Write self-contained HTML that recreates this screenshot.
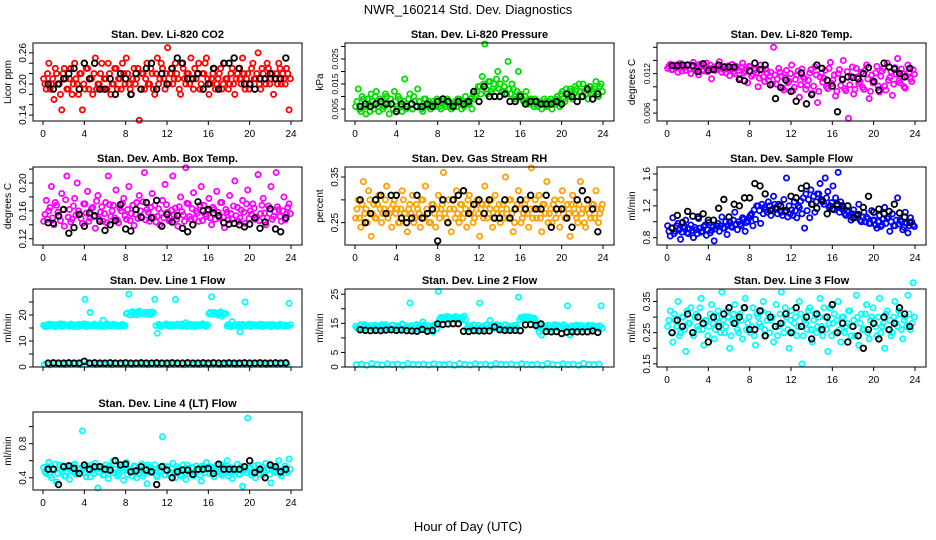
<!DOCTYPE html>
<html><head><meta charset="utf-8"><style>
body{margin:0;background:#fff;}
svg{display:block;font-family:"Liberation Sans",sans-serif;}
</style></head><body>
<svg id="chart" width="936" height="540" viewBox="0 0 936 540">
<rect width="936" height="540" fill="#fff"/>
<text x="468" y="14" text-anchor="middle" font-size="13">NWR_160214  Std. Dev. Diagnostics</text>
<text x="468" y="531" text-anchor="middle" font-size="13">Hour of Day (UTC)</text>
</svg>
<script>
const xTicks=[0,4,8,12,16,20,24];
const co2Col=[0.21,0.19,0.24,0.20,0.17,0.22,0.20,0.15,0.23,0.19,0.21,0.18,0.24,0.20,0.22,0.15,0.19,0.23,0.21,0.18,0.25,0.20,0.22,0.19,0.21,0.24,0.18,0.20,0.23,0.21,0.19,0.22,0.25,0.20,0.18,0.23,0.21,0.13,0.22,0.19,0.24,0.20,0.22,0.18,0.25,0.21,0.23,0.19,0.27,0.22,0.20,0.24,0.21,0.18,0.23,0.20,0.22,0.25,0.19,0.21,0.24,0.20,0.22,0.25,0.18,0.21,0.23,0.20,0.22,0.19,0.24,0.21,0.20,0.23,0.18,0.22,0.21,0.25,0.19,0.22,0.20,0.24,0.21,0.26,0.19,0.22,0.20,0.23,0.21,0.18,0.22,0.24,0.20,0.21,0.23,0.15];
const co2Col2=[0.20,0.22,0.19,0.21,0.23,0.20,0.18,0.22,0.21,0.19,0.23,0.20,0.21,0.18,0.22,0.20,0.23,0.19,0.21,0.22,0.19,0.20,0.24,0.21,0.19,0.22,0.20,0.23,0.19,0.21,0.24,0.20,0.22,0.19,0.21,0.20,0.23,0.19,0.22,0.21,0.20,0.23,0.19,0.22,0.20,0.24,0.21,0.22,0.20,0.23,0.21,0.22,0.19,0.24,0.21,0.22,0.20,0.21,0.23,0.22,0.19,0.22,0.24,0.21,0.20,0.22,0.19,0.21,0.23,0.20,0.21,0.19,0.22,0.20,0.21,0.23,0.20,0.22,0.21,0.19,0.23,0.21,0.22,0.20,0.23,0.21,0.24,0.20,0.22,0.21,0.20,0.23,0.22,0.20,0.22,0.21];
const co2Blk=[0.20,0.19,0.20,0.21,0.22,0.23,0.19,0.24,0.21,0.24,0.19,0.19,0.21,0.18,0.22,0.21,0.18,0.22,0.19,0.23,0.24,0.19,0.22,0.20,0.23,0.25,0.24,0.21,0.21,0.22,0.19,0.20,0.23,0.19,0.24,0.24,0.25,0.23,0.20,0.20,0.19,0.21,0.21,0.22,0.21,0.21,0.25];
const presCol=[0.006,0.013,0.004,0.009,0.003,0.007,0.011,0.005,0.012,0.004,0.008,0.006,0.010,0.003,0.007,0.012,0.005,0.009,0.004,0.017,0.006,0.011,0.005,0.008,0.013,0.006,0.004,0.009,0.006,0.005,0.008,0.006,0.007,0.005,0.009,0.006,0.008,0.005,0.007,0.006,0.009,0.005,0.006,0.008,0.007,0.005,0.009,0.012,0.014,0.018,0.031,0.011,0.016,0.013,0.010,0.020,0.015,0.012,0.017,0.024,0.011,0.013,0.009,0.020,0.010,0.008,0.012,0.007,0.009,0.006,0.008,0.007,0.005,0.009,0.006,0.008,0.005,0.007,0.010,0.006,0.012,0.008,0.011,0.013,0.009,0.014,0.010,0.012,0.015,0.011,0.009,0.014,0.012,0.016,0.010,0.015];
const presCol2=[0.008,0.005,0.010,0.006,0.009,0.004,0.008,0.010,0.006,0.009,0.005,0.011,0.007,0.009,0.005,0.008,0.010,0.006,0.008,0.005,0.009,0.007,0.010,0.006,0.008,0.005,0.009,0.007,0.008,0.006,0.007,0.009,0.006,0.008,0.007,0.009,0.006,0.007,0.008,0.009,0.007,0.008,0.010,0.007,0.009,0.011,0.010,0.014,0.011,0.015,0.013,0.016,0.012,0.015,0.017,0.013,0.012,0.014,0.011,0.013,0.015,0.010,0.012,0.011,0.009,0.010,0.008,0.009,0.007,0.009,0.006,0.008,0.007,0.008,0.007,0.009,0.008,0.009,0.008,0.011,0.009,0.013,0.010,0.012,0.011,0.013,0.015,0.010,0.012,0.013,0.014,0.011,0.013,0.012,0.014,0.012];
const presBlk=[0.006,0.007,0.006,0.007,0.008,0.007,0.007,0.004,0.007,0.006,0.007,0.006,0.006,0.007,0.006,0.008,0.009,0.008,0.006,0.008,0.007,0.008,0.012,0.008,0.014,0.010,0.010,0.010,0.011,0.008,0.008,0.010,0.007,0.008,0.008,0.007,0.007,0.007,0.008,0.007,0.011,0.010,0.008,0.010,0.013,0.009,0.011];
const tempCol=[0.0128,0.0134,0.0126,0.0131,0.0122,0.0135,0.0129,0.0125,0.0133,0.0120,0.0137,0.0127,0.0118,0.0132,0.0124,0.0136,0.0128,0.0112,0.0130,0.0126,0.0138,0.0122,0.0131,0.0127,0.0117,0.0134,0.0120,0.0129,0.0113,0.0136,0.0124,0.0106,0.0131,0.0119,0.0126,0.0100,0.0133,0.0115,0.0127,0.0110,0.0122,0.0160,0.0104,0.0128,0.0116,0.0095,0.0125,0.0108,0.0133,0.0099,0.0118,0.0084,0.0127,0.0112,0.0102,0.0121,0.0090,0.0130,0.0076,0.0115,0.0107,0.0125,0.0097,0.0137,0.0110,0.0086,0.0120,0.0102,0.0140,0.0094,0.0052,0.0116,0.0089,0.0128,0.0105,0.0122,0.0096,0.0133,0.0082,0.0118,0.0108,0.0131,0.0092,0.0124,0.0101,0.0136,0.0114,0.0087,0.0129,0.0143,0.0106,0.0120,0.0098,0.0133,0.0112,0.0126];
const tempCol2=[0.0131,0.0126,0.0133,0.0129,0.0135,0.0124,0.0130,0.0133,0.0127,0.0131,0.0125,0.0130,0.0134,0.0126,0.0130,0.0123,0.0133,0.0128,0.0125,0.0132,0.0129,0.0127,0.0121,0.0132,0.0128,0.0123,0.0131,0.0125,0.0130,0.0121,0.0127,0.0131,0.0116,0.0128,0.0122,0.0113,0.0126,0.0108,0.0121,0.0116,0.0104,0.0118,0.0112,0.0122,0.0098,0.0114,0.0106,0.0120,0.0094,0.0111,0.0124,0.0103,0.0115,0.0096,0.0110,0.0126,0.0101,0.0118,0.0093,0.0121,0.0113,0.0100,0.0128,0.0105,0.0118,0.0093,0.0126,0.0112,0.0097,0.0123,0.0103,0.0130,0.0096,0.0115,0.0108,0.0099,0.0125,0.0112,0.0093,0.0106,0.0121,0.0101,0.0116,0.0128,0.0095,0.0110,0.0123,0.0104,0.0119,0.0109,0.0127,0.0100,0.0116,0.0122,0.0108,0.0119];
const tempBlk=[0.0132,0.0132,0.0133,0.0133,0.0132,0.0123,0.0135,0.0125,0.0126,0.0133,0.0130,0.0130,0.0130,0.0111,0.0109,0.0124,0.0136,0.0126,0.0133,0.0103,0.0082,0.0099,0.0110,0.0093,0.0078,0.0121,0.0074,0.0088,0.0133,0.0128,0.0110,0.0101,0.0062,0.0111,0.0115,0.0114,0.0112,0.0120,0.0129,0.0108,0.0095,0.0136,0.0130,0.0127,0.0120,0.0115,0.0128];
const ambCol=[0.145,0.175,0.160,0.195,0.140,0.168,0.152,0.185,0.138,0.210,0.162,0.148,0.178,0.200,0.155,0.142,0.170,0.188,0.150,0.165,0.135,0.182,0.158,0.145,0.172,0.210,0.152,0.168,0.190,0.143,0.160,0.178,0.148,0.195,0.156,0.139,0.172,0.182,0.150,0.215,0.162,0.145,0.185,0.168,0.152,0.140,0.175,0.198,0.158,0.146,0.210,0.164,0.138,0.180,0.154,0.222,0.170,0.148,0.186,0.160,0.145,0.195,0.168,0.152,0.178,0.140,0.162,0.188,0.150,0.172,0.136,0.158,0.182,0.148,0.203,0.165,0.150,0.175,0.142,0.190,0.160,0.170,0.148,0.212,0.156,0.178,0.140,0.167,0.195,0.152,0.215,0.162,0.145,0.180,0.155,0.170];
const ambCol2=[0.155,0.148,0.165,0.150,0.172,0.158,0.146,0.162,0.176,0.151,0.144,0.167,0.154,0.160,0.149,0.170,0.157,0.145,0.163,0.152,0.174,0.148,0.166,0.156,0.143,0.169,0.160,0.150,0.147,0.164,0.171,0.153,0.162,0.146,0.168,0.155,0.149,0.160,0.173,0.147,0.158,0.165,0.151,0.144,0.163,0.157,0.150,0.169,0.146,0.161,0.154,0.148,0.166,0.159,0.145,0.171,0.152,0.163,0.149,0.157,0.168,0.146,0.155,0.160,0.150,0.165,0.148,0.158,0.172,0.151,0.162,0.147,0.156,0.167,0.153,0.145,0.161,0.158,0.170,0.149,0.155,0.164,0.151,0.146,0.168,0.157,0.150,0.163,0.148,0.159,0.166,0.152,0.160,0.147,0.165,0.156];
const ambBlk=[0.143,0.142,0.153,0.162,0.128,0.136,0.155,0.138,0.157,0.153,0.145,0.132,0.140,0.146,0.169,0.134,0.131,0.162,0.151,0.172,0.150,0.175,0.138,0.155,0.144,0.153,0.135,0.130,0.140,0.173,0.160,0.162,0.157,0.153,0.143,0.141,0.142,0.140,0.137,0.141,0.150,0.135,0.144,0.163,0.134,0.130,0.150];
const rhCol=[0.26,0.30,0.24,0.34,0.28,0.32,0.22,0.29,0.26,0.31,0.25,0.28,0.33,0.27,0.24,0.30,0.28,0.25,0.32,0.27,0.23,0.29,0.31,0.26,0.28,0.24,0.30,0.33,0.27,0.25,0.29,0.24,0.31,0.28,0.36,0.26,0.30,0.23,0.28,0.32,0.25,0.29,0.27,0.24,0.31,0.28,0.26,0.30,0.22,0.29,0.33,0.26,0.28,0.24,0.31,0.27,0.25,0.29,0.35,0.26,0.30,0.23,0.28,0.32,0.25,0.27,0.30,0.24,0.37,0.28,0.26,0.31,0.23,0.29,0.34,0.27,0.25,0.30,0.28,0.24,0.32,0.26,0.29,0.22,0.31,0.27,0.25,0.34,0.28,0.24,0.30,0.26,0.29,0.32,0.25,0.28];
const rhCol2=[0.28,0.26,0.29,0.27,0.25,0.30,0.27,0.26,0.29,0.28,0.27,0.30,0.26,0.28,0.29,0.27,0.25,0.28,0.30,0.26,0.28,0.27,0.25,0.29,0.27,0.30,0.26,0.28,0.25,0.29,0.27,0.28,0.26,0.29,0.27,0.25,0.28,0.30,0.26,0.27,0.29,0.26,0.28,0.30,0.27,0.25,0.29,0.27,0.28,0.26,0.29,0.27,0.30,0.26,0.28,0.29,0.27,0.26,0.28,0.30,0.27,0.25,0.29,0.28,0.26,0.29,0.27,0.28,0.26,0.30,0.28,0.26,0.29,0.27,0.25,0.28,0.29,0.26,0.27,0.30,0.28,0.26,0.27,0.29,0.28,0.26,0.29,0.27,0.25,0.28,0.27,0.29,0.26,0.28,0.27,0.29];
const rhBlk=[0.30,0.25,0.27,0.30,0.31,0.27,0.31,0.31,0.26,0.25,0.26,0.31,0.26,0.27,0.28,0.21,0.30,0.25,0.30,0.31,0.32,0.27,0.29,0.30,0.27,0.30,0.26,0.26,0.30,0.26,0.28,0.30,0.28,0.31,0.28,0.28,0.31,0.24,0.28,0.28,0.26,0.24,0.30,0.32,0.30,0.28,0.23];
const flowCol=[0.95,0.82,1.05,0.88,0.98,0.78,0.92,1.02,0.85,0.96,0.80,0.90,1.04,0.87,0.94,0.83,0.99,0.89,0.76,0.95,0.88,1.06,0.92,0.84,1.00,0.93,1.12,0.90,0.97,1.05,0.88,1.01,1.08,0.95,1.03,1.20,0.98,1.10,1.15,1.25,1.08,1.32,1.18,1.22,1.12,1.28,1.55,1.20,1.15,1.25,1.05,1.18,1.10,0.92,1.14,1.05,1.22,1.12,1.35,1.48,1.25,1.55,1.38,1.20,1.45,1.30,1.62,1.25,1.18,1.08,1.12,1.02,1.15,1.08,1.22,1.00,1.12,1.06,0.98,1.14,1.02,0.92,1.08,0.96,1.18,1.04,0.88,1.10,0.95,1.30,1.02,0.90,1.12,0.86,1.05,0.96];
const flowCol2=[0.88,0.92,0.85,0.95,0.90,0.87,0.94,0.86,0.91,0.89,0.93,0.85,0.92,0.88,0.96,0.90,0.86,0.93,0.91,0.98,0.95,0.92,1.00,0.96,0.94,1.02,0.97,1.00,0.95,1.03,0.99,1.05,1.10,1.15,1.20,1.14,1.22,1.18,1.12,1.20,1.16,1.22,1.10,1.14,1.08,1.12,1.06,1.10,1.08,1.14,1.20,1.26,1.30,1.35,1.28,1.40,1.32,1.25,1.35,1.28,1.22,1.30,1.18,1.24,1.15,1.20,1.12,1.16,1.10,1.14,1.08,1.10,1.05,1.08,1.02,1.06,1.00,1.04,0.98,1.02,0.96,1.00,0.94,1.04,0.98,1.06,1.00,0.95,1.02,0.97,1.00,0.93,0.98,0.95,1.00,0.94];
const flowBlk=[0.92,1.08,0.99,1.13,1.07,1.06,1.10,1.02,1.02,1.17,1.28,1.06,1.22,1.20,1.30,1.30,1.48,1.45,1.35,1.14,1.16,1.20,1.14,1.32,1.30,1.42,1.45,1.22,1.17,1.27,1.10,1.16,1.22,1.20,1.20,1.05,1.09,1.18,1.32,1.12,1.16,1.10,1.13,1.22,1.11,1.06,0.99];
const l1High=[16,15.5,16.5,16,15.8,16.2,16,15.6,16.4,16,15.7,16.3,16,15.5,16.2,16,26,16.4,21,15.8,16.2,16,15.6,18,16.3,15.8,16,16.5,15.7,16.1,16,15.8,20.5,28,21,20.2,20.8,21.5,20.5,21,20.3,20.7,21.2,26,13,16,15.8,16.3,16,15.6,16.2,26,16.5,16,15.8,17,16.2,15.7,16.3,16,15.8,16.4,16,15.6,20.5,27,21,20.2,20.8,19.5,20.5,15.8,16,17.5,16.2,15.7,13.5,16.4,25,16,15.6,16.3,16,15.8,16.5,15.7,16.2,16,15.5,16.3,16,15.8,16.2,15.7,16,24.5];
const l1High2=[15.6,16.3,15.8,16.4,15.5,16.1,16.6,15.7,16.2,15.9,16.5,15.6,16.1,16.4,15.8,16.6,15.5,16.0,15.9,16.5,15.7,16.3,16.0,15.5,16.6,16.1,15.8,16.3,16.0,15.6,16.4,15.9,20.8,20.0,21.3,20.6,20.1,21.0,20.7,20.4,21.1,20.2,20.9,15.9,16.4,15.6,16.1,16.6,15.8,16.3,15.7,16.2,15.9,16.5,16.1,15.6,16.4,16.0,15.5,16.3,15.9,16.6,15.7,16.2,21.0,20.3,20.7,20.0,21.2,20.4,20.6,16.3,15.5,16.1,15.9,16.4,15.6,16.0,15.8,16.5,15.7,16.1,15.9,16.4,15.6,16.2,15.8,16.3,15.7,16.0,15.6,16.4,15.9,16.1,15.7,16.2];
const l1Low=[1.0,0.8,1.2,1.0,0.9,1.1,1.3,0.8,1.0,1.2,0.9,1.1,1.0,0.8,1.2,1.0,1.1,0.9,1.3,1.0,0.8,1.1,1.0,1.2,0.9,1.0,1.1,0.8,1.2,1.0,0.9,1.1,1.0,1.3,0.8,1.0,1.2,0.9,1.1,1.0,0.8,1.2,1.0,0.9,1.1,1.0,1.2,0.9];
const l1Blk=[1.5,1.6,1.5,1.5,1.6,1.5,1.5,2.2,1.5,1.6,1.5,1.5,1.6,1.5,1.5,1.6,1.5,1.5,1.6,1.5,1.5,1.6,1.5,1.5,1.6,1.5,1.5,1.6,1.5,1.5,1.6,1.5,1.6,1.5,1.5,1.6,1.5,1.5,1.6,1.5,1.5,1.6,1.5,1.5,1.6,1.5,1.6];
const l2High=[14,13.5,14.5,13,14,13.5,14.2,13,14,13.8,14.5,13.2,14,13.5,14.3,13,14,13.5,14.8,13.2,14,22,13.5,14.2,13,14,15.5,13.5,14.2,13,12,14.5,26,17,16.2,16.8,17.2,16.5,16.4,17,16.6,16,17.5,13,14,13.5,14.2,13,22,14,13.5,14.5,16,13.2,14,13.5,14.2,13,14.5,13.5,14,13.2,14.2,24,17,16.5,16.8,17.2,16.4,16.8,14,12,11,14,13.5,14.2,13,14.5,13.5,13.8,14,13.2,21,11,13.5,14,13.2,14.2,13,13.8,14.3,13,13.6,14,13.2,21];
const l2High2=[13.4,14.3,13.1,14.6,13.7,14.1,13.3,14.4,13.6,14.2,13.0,14.5,13.8,13.2,14.4,13.6,14.1,13.3,14.5,13.9,13.4,14.2,13.1,14.6,13.7,13.3,14.4,13.0,14.1,13.8,14.5,13.2,16.4,17.1,16.6,17.4,16.1,16.9,17.3,16.3,17.0,16.7,16.2,14.1,13.4,14.5,13.2,14.3,13.7,13.1,14.4,13.6,14.0,13.3,14.6,13.8,13.2,14.4,13.5,14.1,13.0,14.3,13.6,16.2,16.9,17.3,16.4,17.1,16.6,16.2,13.5,14.2,13.1,13.7,14.4,13.3,14.0,13.6,14.3,13.2,14.5,13.8,13.4,14.1,13.0,14.4,13.6,14.2,13.3,14.0,13.5,14.3,13.2,13.9,14.1,13.4];
const l2Low=[0.8,1.0,0.6,1.2,0.9,0.7,1.1,0.8,1.0,0.6,1.2,0.9,0.8,1.0,0.7,1.1,0.9,0.8,1.0,0.6,1.2,0.9,0.7,1.1,0.8,1.0,0.6,1.2,0.9,0.8,1.0,0.7,1.1,0.9,0.8,1.0,0.6,1.2,0.9,0.7,1.1,0.8,1.0,0.6,1.2,0.9,0.8,1.0];
const l2Blk=[12.8,12.6,12.5,12.6,12.5,12.7,12.8,12.6,12.7,12.5,12.4,12.3,12.9,12.3,12.6,14.8,14.6,14.8,14.9,14.9,12.3,12.2,12.5,12.4,12.4,12.4,13.8,12.8,12.6,12.6,12.6,12.5,14.5,14.6,14.3,14.8,12.2,12.1,12.2,11.5,12,12.1,12.1,12.1,12.1,12.4,11.9];
const l3Col=[0.27,0.32,0.22,0.29,0.35,0.25,0.30,0.19,0.28,0.33,0.24,0.31,0.26,0.36,0.21,0.29,0.27,0.34,0.23,0.30,0.28,0.38,0.25,0.32,0.20,0.29,0.34,0.26,0.31,0.23,0.36,0.28,0.25,0.33,0.21,0.30,0.27,0.35,0.24,0.31,0.29,0.22,0.34,0.27,0.38,0.25,0.30,0.20,0.32,0.28,0.24,0.35,0.15,0.29,0.26,0.33,0.22,0.31,0.27,0.36,0.24,0.30,0.19,0.33,0.28,0.25,0.35,0.22,0.30,0.27,0.32,0.24,0.29,0.37,0.21,0.31,0.26,0.34,0.23,0.30,0.28,0.24,0.36,0.27,0.20,0.32,0.29,0.25,0.35,0.27,0.31,0.23,0.30,0.37,0.26,0.41];
const l3Col2=[0.29,0.25,0.31,0.27,0.24,0.30,0.26,0.32,0.28,0.25,0.30,0.27,0.33,0.26,0.29,0.24,0.31,0.28,0.26,0.32,0.25,0.29,0.27,0.30,0.24,0.31,0.28,0.25,0.29,0.33,0.26,0.30,0.27,0.24,0.31,0.28,0.32,0.26,0.29,0.25,0.30,0.27,0.24,0.31,0.28,0.33,0.26,0.29,0.25,0.30,0.27,0.31,0.24,0.28,0.32,0.26,0.29,0.25,0.30,0.27,0.33,0.26,0.28,0.24,0.31,0.29,0.26,0.30,0.25,0.28,0.32,0.27,0.24,0.30,0.28,0.26,0.31,0.25,0.29,0.33,0.27,0.30,0.25,0.28,0.31,0.26,0.24,0.30,0.28,0.32,0.26,0.29,0.27,0.31,0.28,0.30];
const l3Blk=[0.25,0.29,0.27,0.31,0.25,0.30,0.28,0.22,0.30,0.27,0.31,0.33,0.28,0.30,0.33,0.26,0.26,0.32,0.24,0.30,0.27,0.28,0.31,0.25,0.33,0.27,0.30,0.23,0.31,0.26,0.30,0.34,0.25,0.28,0.22,0.27,0.24,0.20,0.26,0.28,0.23,0.30,0.26,0.28,0.33,0.31,0.27];
const l4Col=[0.52,0.45,0.58,0.40,0.50,0.35,0.55,0.47,0.42,0.53,0.38,0.49,0.56,0.44,0.51,0.95,0.46,0.54,0.41,0.48,0.57,0.28,0.50,0.43,0.55,0.39,0.52,0.60,0.46,0.44,0.51,0.37,0.58,0.48,0.42,0.54,0.40,0.50,0.56,0.45,0.33,0.52,0.47,0.55,0.41,0.49,0.88,0.43,0.53,0.46,0.57,0.40,0.50,0.44,0.55,0.38,0.51,0.47,0.42,0.54,0.48,0.36,0.52,0.58,0.45,0.50,0.41,0.55,0.47,0.43,0.53,0.60,0.46,0.39,0.51,0.56,0.44,0.30,0.49,1.10,0.52,0.46,0.40,0.55,0.48,0.43,0.57,0.50,0.34,0.53,0.46,0.60,0.42,0.51,0.48,0.62];
const l4Col2=[0.47,0.53,0.43,0.50,0.56,0.45,0.49,0.54,0.42,0.51,0.47,0.55,0.44,0.50,0.46,0.52,0.41,0.49,0.55,0.45,0.51,0.47,0.53,0.43,0.48,0.54,0.46,0.50,0.42,0.52,0.48,0.55,0.44,0.50,0.47,0.53,0.45,0.49,0.42,0.51,0.55,0.46,0.50,0.43,0.52,0.47,0.54,0.49,0.44,0.51,0.46,0.53,0.48,0.42,0.50,0.55,0.45,0.52,0.47,0.49,0.43,0.54,0.46,0.50,0.53,0.44,0.48,0.51,0.45,0.55,0.49,0.42,0.52,0.47,0.50,0.44,0.53,0.48,0.46,0.51,0.43,0.54,0.49,0.45,0.52,0.47,0.50,0.44,0.53,0.48,0.51,0.45,0.49,0.54,0.46,0.50];
const l4Blk=[0.50,0.50,0.32,0.53,0.54,0.51,0.45,0.55,0.50,0.53,0.53,0.50,0.49,0.60,0.55,0.56,0.47,0.48,0.53,0.49,0.47,0.32,0.53,0.49,0.40,0.47,0.49,0.49,0.44,0.50,0.50,0.51,0.45,0.56,0.50,0.50,0.50,0.50,0.53,0.60,0.46,0.50,0.40,0.55,0.53,0.47,0.50];

const NS='http://www.w3.org/2000/svg';
const svg=document.getElementById('chart');
const colX=[33,345,657], rowY=[43,167,289,412], W=269, H=78;
function mk(t,a,p){const e=document.createElementNS(NS,t);for(const k in a)e.setAttribute(k,a[k]);(p||svg).appendChild(e);return e;}
const panels=[
 {t:'Stan. Dev. Li-820 CO2',yl:'Licor ppm',c:0,r:0,y0:0.1286,y1:0.279,ticks:[0.14,0.16,0.18,0.20,0.22,0.24,0.26],labs:['0.14','','','0.20','','','0.26'],col:'#ff0000',cs:[co2Col,co2Col2],bk:co2Blk,xl:true},
 {t:'Stan. Dev. Li-820 Pressure',yl:'kPa',c:1,r:0,y0:0.0002,y1:0.0314,ticks:[0.005,0.01,0.015,0.02,0.025,0.03],labs:['0.005','','0.015','','0.025',''],col:'#00dd00',cs:[presCol,presCol2],bk:presBlk,xl:true},
 {t:'Stan. Dev. Li-820 Temp.',yl:'degrees C',c:2,r:0,y0:0.0048,y1:0.01665,ticks:[0.006,0.008,0.010,0.012,0.014,0.016],labs:['0.006','','','0.012','',''],col:'#ff00ff',cs:[tempCol,tempCol2],bk:tempBlk,xl:true},
 {t:'Stan. Dev. Amb. Box Temp.',yl:'degrees C',c:0,r:1,y0:0.111,y1:0.223,ticks:[0.12,0.14,0.16,0.18,0.20,0.22],labs:['0.12','','0.16','','0.20',''],col:'#ff00ff',cs:[ambCol,ambCol2],bk:ambBlk,xl:true},
 {t:'Stan. Dev. Gas Stream RH',yl:'percent',c:1,r:1,y0:0.201,y1:0.372,ticks:[0.25,0.30,0.35],labs:['0.25','','0.35'],col:'#ffa000',cs:[rhCol,rhCol2],bk:rhBlk,xl:true},
 {t:'Stan. Dev. Sample Flow',yl:'ml/min',c:2,r:1,y0:0.708,y1:1.688,ticks:[0.8,1.0,1.2,1.4,1.6],labs:['0.8','','1.2','','1.6'],col:'#0000ff',cs:[flowCol,flowCol2],bk:flowBlk,xl:true},
 {t:'Stan. Dev. Line 1 Flow',yl:'ml/min',c:0,r:2,y0:0,y1:30,ticks:[0,5,10,15,20,25],labs:['0','','10','','20',''],col:'#00ffff',cs:[l1High,l1High2,l1Low],bk:l1Blk,xl:false},
 {t:'Stan. Dev. Line 2 Flow',yl:'ml/min',c:1,r:2,y0:0,y1:26.8,ticks:[0,5,10,15,20,25],labs:['0','5','','15','','25'],col:'#00ffff',cs:[l2High,l2High2,l2Low],bk:l2Blk,xl:false},
 {t:'Stan. Dev. Line 3 Flow',yl:'ml/min',c:2,r:2,y0:0.14,y1:0.39,ticks:[0.15,0.20,0.25,0.30,0.35],labs:['0.15','','0.25','','0.35'],col:'#00ffff',cs:[l3Col,l3Col2],bk:l3Blk,xl:true},
 {t:'Stan. Dev. Line 4 (LT) Flow',yl:'ml/min',c:0,r:3,y0:0.256,y1:1.172,ticks:[0.4,0.6,0.8,1.0],labs:['0.4','','0.8',''],col:'#00ffff',cs:[l4Col,l4Col2],bk:l4Blk,xl:true}
];
panels.forEach((p,pi)=>{
 const x0=colX[p.c], y0=rowY[p.r];
 const g=mk('g',{});
 
 
 const xs=h=>x0+10+h*248/24;
 const ys=v=>y0+H-(v-p.y0)/(p.y1-p.y0)*H;
 const ti=mk('text',{x:x0+W/2,y:y0-5,'text-anchor':'middle','font-size':'11','font-weight':'bold'},g);ti.textContent=p.t;
 
 
 const yl=mk('text',{x:0,y:0,'text-anchor':'middle','font-size':'10',transform:`translate(${x0-22},${y0+H/2}) rotate(-90)`},g);yl.textContent=p.yl;
 
 
 const pts=mk('g',{fill:'none'},g);
 
 
 p.cs.forEach((arr,ai)=>{arr.forEach((v,i)=>{
   const h=(i+0.25+0.5*(ai%2))*24/arr.length;
   const c=mk('circle',{cx:xs(h),cy:ys(v),r:2.6,stroke:p.col,'stroke-width':1.8},pts);
   
   
 });});
 const bk=mk('g',{fill:'none'},g);
 
 
 p.bk.forEach((v,i)=>{
   const h=(i+1)*24/(p.bk.length+1);
   const c=mk('circle',{cx:xs(h),cy:ys(v),r:2.8,stroke:'#000','stroke-width':1.8},bk);
   
   
 });
 const box=mk('rect',{x:x0,y:y0,width:W,height:H,fill:'none',stroke:'#000','stroke-width':1},g);
 
 
 xTicks.forEach(t=>{
   mk('line',{x1:xs(t),x2:xs(t),y1:y0+H,y2:y0+H+4,stroke:'#000'},g);
   if(p.xl){const tl=mk('text',{x:xs(t),y:y0+H+16,'text-anchor':'middle','font-size':'10'},g);tl.textContent=t;
   
   }
 });
 p.ticks.forEach((t,k)=>{
   const y=ys(t);
   mk('line',{x1:x0-4,x2:x0,y1:y,y2:y,stroke:'#000'},g);
   if(p.labs[k]){const tl=mk('text',{x:0,y:0,'text-anchor':'middle','font-size':p.labs[k].length>4?'8.5':'10',transform:`translate(${x0-7},${y}) rotate(-90)`},g);tl.textContent=p.labs[k];
   
   }
 });
});
</script>
</body></html>
